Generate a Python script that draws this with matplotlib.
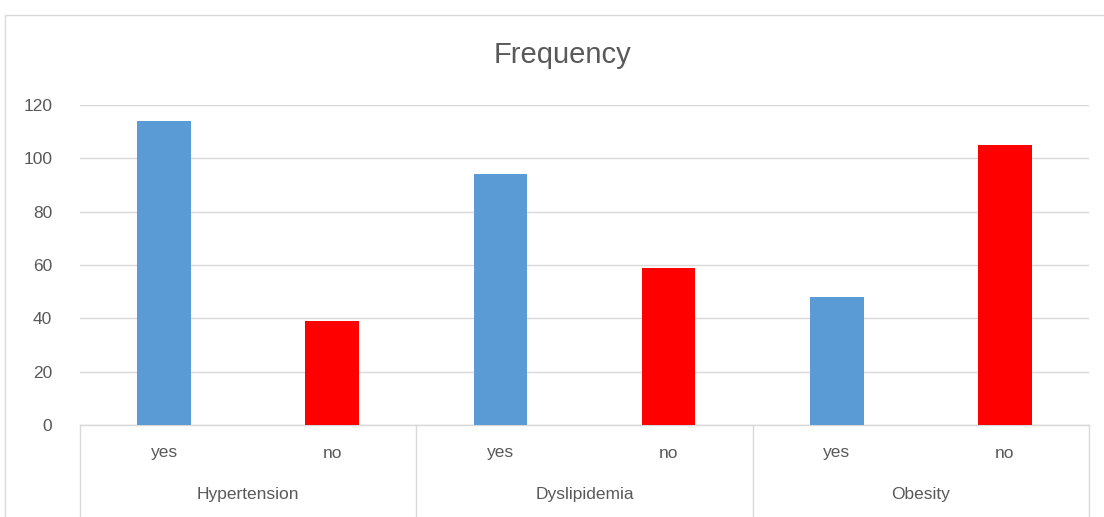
import matplotlib
matplotlib.use("Agg")
import matplotlib.pyplot as plt
from matplotlib.patches import Rectangle
from matplotlib import font_manager

groups = ["Hypertension", "Dyslipidemia", "Obesity"]
answers = ["yes", "no"]
values = [114, 39, 94, 59, 48, 105]
colors = ["#5B9BD5", "#FF0000"]
yticks = [0, 20, 40, 60, 80, 100, 120]
title = "Frequency"

names = {f.name for f in font_manager.fontManager.ttflist}
fam = ['Liberation Sans Narrow'] if 'Liberation Sans Narrow' in names else []
plt.rcParams['font.family'] = fam + ['Liberation Sans', 'DejaVu Sans']
narrow = bool(fam)
W, H = 1104, 517
fig = plt.figure(figsize=(W / 100, H / 100), dpi=100)

# chart border (Excel-style chart area)
fig.patches.append(Rectangle((5 / W, -0.1), 1.2, (517 - 15) / H + 0.1,
                             transform=fig.transFigure, fill=False,
                             edgecolor="#D9D9D9", linewidth=1))

x0, x1, ytop, ybot = 80, 1089, 105, 425
ax = fig.add_axes([x0 / W, (H - ybot) / H, (x1 - x0) / W, (ybot - ytop) / H])

n = len(values)
xs = list(range(n))
bar_colors = [colors[i % 2] for i in range(n)]
ax.bar(xs, values, width=0.32, color=bar_colors, zorder=3)

fs = 14 if narrow else 12.5
ax.set_xlim(-0.5, n - 0.5)
ax.set_ylim(0, 120)
ax.set_yticks(yticks)
ax.set_yticklabels([str(v) for v in yticks], color="#595959", fontsize=fs)
ax.tick_params(axis="y", length=0, pad=20)
ax.set_xticks([])
ax.grid(axis="y", color="#D9D9D9", linewidth=1, zorder=0)
for s in ["top", "right", "left"]:
    ax.spines[s].set_visible(False)
ax.spines["bottom"].set_color("#D9D9D9")
ax.spines["bottom"].set_linewidth(1)

# multi-level category axis
trans = ax.get_xaxis_transform()
bottom = -(H - ybot) / (ybot - ytop)
for b in [-0.5, 1.5, 3.5, 5.5]:
    ax.plot([b, b], [0, bottom], transform=trans, color="#D9D9D9",
            linewidth=1, clip_on=False)
yes_no_y = -(453 - ybot) / (ybot - ytop)
grp_y = -(494 - ybot) / (ybot - ytop)
for i in xs:
    ax.text(i, yes_no_y, answers[i % 2], transform=trans, ha="center",
            va="center", fontsize=fs, color="#595959")
for g, name in enumerate(groups):
    ax.text(2 * g + 0.5, grp_y, name, transform=trans, ha="center",
            va="center", fontsize=fs, color="#595959")

fig.text(562 / W, 1 - 55 / H, title, ha="center", va="center",
         fontsize=24 if narrow else 21, color="#595959")

fig.savefig("out.png", dpi=100)
